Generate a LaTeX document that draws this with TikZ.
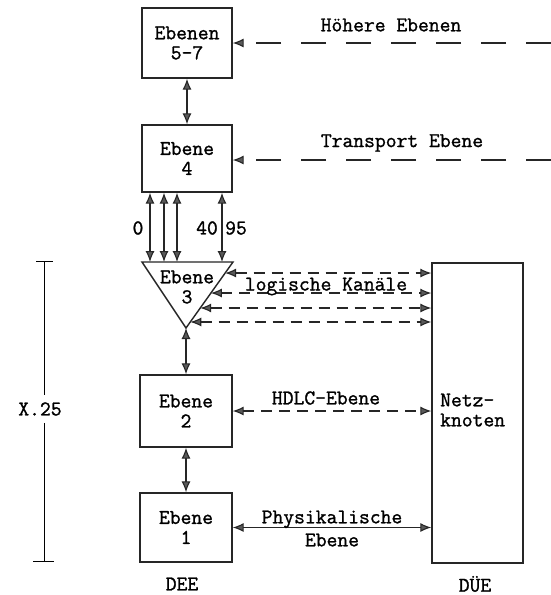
\documentclass[tikz,border=0pt]{standalone}
\usepackage{fontspec}
\newfontfamily\twfont[FakeBold=1.2]{Latin Modern Mono}
\usetikzlibrary{arrows.meta,calc}
\begin{document}
\begin{tikzpicture}[x=1pt,y=-1pt,font=\twfont\fontsize{21}{20}\selectfont]
\tikzset{
  lyr/.style={draw=black!85,line width=1.4pt,inner sep=0pt,align=center},
  conn/.style={line width=1.1pt,draw=black!85},
  tipone/.style={-{Latex[length=11pt,width=9pt,fill=black!65]}},
  tipboth/.style={{Latex[length=11pt,width=9pt,fill=black!65]}-{Latex[length=11pt,width=9pt,fill=black!65]}},
  longdash/.style={dash pattern=on 25pt off 20pt},
  shortdash/.style={dash pattern=on 11pt off 7pt},
  lbl/.style={inner sep=1pt,align=center}
}
\useasboundingbox (0,0) rectangle (551,595);
\fill[white] (0,0) rectangle (551,595);

% boxes
\node[lyr,minimum width=90pt,minimum height=70pt] (b57) at (187,43) {Ebenen\\5-7};
\node[lyr,minimum width=90pt,minimum height=67pt] (b4) at (187,158.5) {Ebene\\4};
\node[lyr,minimum width=92pt,minimum height=72pt] (b2) at (186,411) {Ebene\\2};
\node[lyr,minimum width=92pt,minimum height=69pt] (b1) at (186,527.5) {Ebene\\1};
\node[lyr,minimum width=91pt,minimum height=300pt] (netz) at (477.5,413) {};
\node[lbl,anchor=west,align=left] (netzt) at (439,410) {Netz-\\knoten};

% triangle (Ebene 3)
\coordinate (tl) at (142,262);
\coordinate (tr) at (233,262);
\coordinate (tb) at (186,328);
\draw[lyr] (tl) -- (tr) -- (tb) -- cycle;
\node[lbl] (l3) at (187,287) {Ebene\\3};

% upper dashed arrows
\coordinate (e1) at (551,43);
\coordinate (e2) at (551,160);
\draw[conn,longdash,tipone] (e1) -- (e1 -| b57.east);
\draw[conn,longdash,tipone] (e2) -- (e2 -| b4.east);
\node[lbl] (hoe) at (391,25) {Höhere Ebenen};
\node[lbl] (tra) at (402,143) {Transport Ebene};

% vertical arrows
\draw[conn,tipboth] (b57.south) -- (b4.north);
\coordinate (a1) at (150,262);
\coordinate (a2) at (164,262);
\coordinate (a3) at (177,262);
\coordinate (a4) at (222,262);
\foreach \a in {a1,a2,a3,a4}{\draw[conn,tipboth] (b4.south -| \a) -- (\a);}
\node[lbl] (n0) at (138,228) {0};
\node[lbl] (n40) at (207,228) {40};
\node[lbl] (n95) at (236,228) {95};
\draw[conn,tipboth] (tb) -- (b2.north);
\draw[conn,tipboth] (b2.south) -- (b1.north);

% logical channels
\coordinate (k1) at ($(tr)!0.167!(tb)$);
\coordinate (k2) at ($(tr)!0.47!(tb)$);
\coordinate (k3) at ($(tr)!0.697!(tb)$);
\coordinate (k4) at ($(tr)!0.909!(tb)$);
\foreach \k in {k1,k2,k3,k4}{\draw[conn,shortdash,tipboth] (\k) -- (\k -| netz.west);}
\node[lbl] (lk) at (326,286.5) {logische Kanäle};

% HDLC and physical
\draw[conn,shortdash,tipboth] (b2.east) -- (b2.east -| netz.west);
\node[lbl] (hdlc) at (326,398) {HDLC-Ebene};
\draw[conn,tipboth] (b1.east) -- (b1.east -| netz.west);
\node[lbl,align=center] (phys) at (332,528.5) {Physikalische\\[3pt]Ebene};

% X.25 dimension
\node[lbl] (x25) at (40,409) {X.25};
\coordinate (dt) at (44,261);
\coordinate (db) at (44,561);
\draw[line width=0.8pt] (dt) -- ([yshift=6pt]x25.north -| dt);
\draw[line width=0.8pt] ([yshift=-6pt]x25.south -| dt) -- (db);
\draw[line width=0.8pt] ([xshift=-8pt]dt) -- ([xshift=9pt]dt);
\draw[line width=0.8pt] ([xshift=-11pt]db) -- ([xshift=10pt]db);

% bottom labels
\node[lbl] (dee) at (182,584) {DEE};
\node[lbl] (due) at (475,584) {DÜE};
\end{tikzpicture}
\end{document}
